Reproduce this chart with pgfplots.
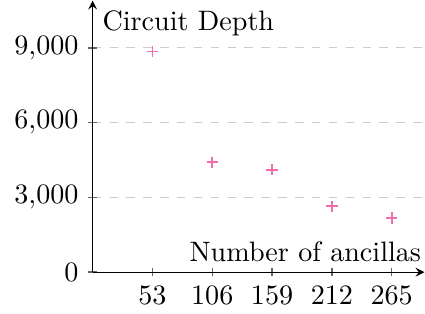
\documentclass[border=0pt]{standalone}
\usepackage{pgfplots}
\pgfplotsset{compat=1.18}
\definecolor{markpink}{RGB}{240,110,170}
\begin{document}
\begin{tikzpicture}
\begin{axis}[
  scale only axis,
  width=118pt, height=96.6pt,
  axis x line=bottom,
  axis y line=left,
  xmin=0, xmax=294,
  ymin=0, ymax=10900,
  xtick={53,106,159,212,265},
  ytick={0,3000,6000,9000},
  every tick/.style={black!60, line width=0.5pt},
  tick align=center,
  major tick length=3pt,
  scaled y ticks=false,
  yticklabel style={/pgf/number format/1000 sep={\mathord{,}}},
  ymajorgrids,
  major grid style={dashed, gray!40},
  xlabel={Number of ancillas},
  ylabel={Circuit Depth},
  every axis x label/.style={at={(axis description cs:1,0)}, anchor=south east, inner xsep=1pt},
  every axis y label/.style={at={(axis description cs:0,1)}, anchor=north west},
]
\addplot[only marks, mark=+, color=markpink, mark options={line width=0.6pt}] coordinates {
  (53,8860) (106,4410) (159,4110) (212,2650) (265,2170)
};
\end{axis}
% a little white margin to the left of the tick labels
\path (current bounding box.south west) ++(-1.8pt,0pt);
\end{tikzpicture}
\end{document}
